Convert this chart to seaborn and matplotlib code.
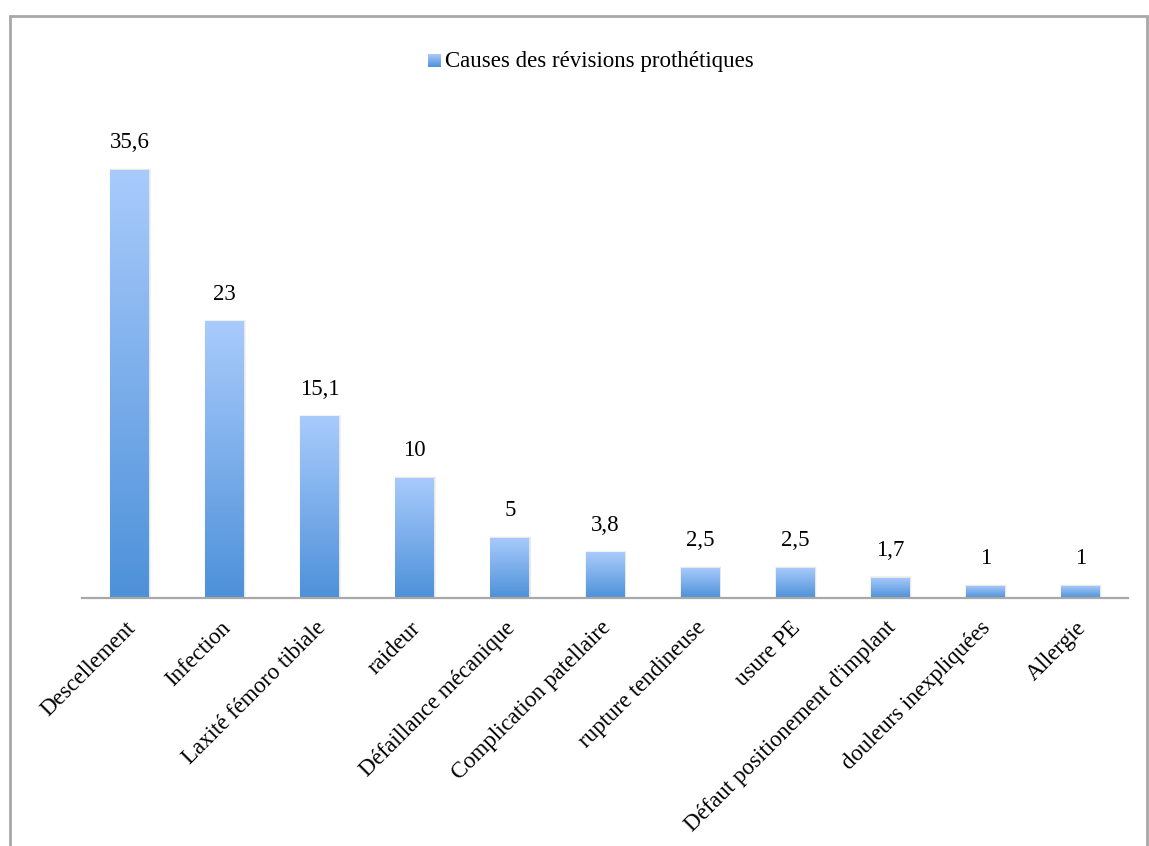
import numpy as np
import pandas as pd
import matplotlib
matplotlib.use("Agg")
import matplotlib.pyplot as plt
import matplotlib.transforms as mtransforms
import seaborn as sns
from matplotlib.colors import LinearSegmentedColormap
from matplotlib.patches import Rectangle

categories = [
    "Descellement", "Infection", "Laxité fémoro tibiale", "raideur",
    "Défaillance mécanique", "Complication patellaire", "rupture tendineuse",
    "usure PE", "Défaut positionement d'implant", "douleurs inexpliquées",
    "Allergie",
]
values = [35.6, 23, 15.1, 10, 5, 3.8, 2.5, 2.5, 1.7, 1, 1]
value_labels = ["35,6", "23", "15,1", "10", "5", "3,8", "2,5", "2,5", "1,7", "1", "1"]
series_name = "Causes des révisions prothétiques"

sns.set_theme(style="white")
plt.rcParams["font.family"] = ["Liberation Serif", "DejaVu Serif"]

W, H = 1149, 846
fig = plt.figure(figsize=(W / 100, H / 100), dpi=100)

# outer chart frame (bottom edge runs off the page)
frame = Rectangle((10 / W, -0.05), (1147 - 10) / W, (H - 16) / H + 0.05,
                  transform=fig.transFigure, fill=False,
                  edgecolor="#a8a8a8", linewidth=2.0)
fig.patches.append(frame)

ax = fig.add_axes([82 / W, (H - 598) / H, (1128 - 82) / W, 481 / H])

df = pd.DataFrame({"cause": categories, "value": values})
sns.barplot(data=df, x="cause", y="value", ax=ax, width=0.41,
            color="#7fb0ea", saturation=1, edgecolor="none")

ax.set_ylim(0, 40)
ax.set_xlim(-0.5, len(categories) - 0.5)

# vertical gradient fill inside each bar, with a soft shadow
cmap = LinearSegmentedColormap.from_list("barfill", ["#4d91d9", "#a9cbfc"])
grad = np.linspace(0, 1, 256).reshape(-1, 1)
for bar in ax.patches:
    x0, y0 = bar.get_x(), bar.get_y()
    w, h = bar.get_width(), bar.get_height()
    for k, a in enumerate([0.10, 0.07, 0.04]):
        dx = 0.012 + 0.008 * k
        sh = Rectangle((x0 - 0.004 * k, y0), w + dx, h + 0.05 * (k + 1),
                       facecolor="#8c8c8c", alpha=a, edgecolor="none", zorder=1)
        ax.add_patch(sh)
    bar.set_facecolor("none")
    im = ax.imshow(grad, extent=[x0, x0 + w, y0, y0 + h], origin="lower",
                   aspect="auto", cmap=cmap, zorder=2)
    im.set_clip_path(bar)

for i, (v, lab) in enumerate(zip(values, value_labels)):
    ax.annotate(lab, (i, v), xytext=(0, 12), textcoords="offset points",
                ha="center", va="bottom", fontsize=16.5, color="#000000")

ax.set_xlabel("")
ax.set_ylabel("")
ax.set_yticks([])
ax.set_xticks(range(len(categories)))
ax.set_xticklabels(categories, rotation=45, ha="right",
                   rotation_mode="anchor", fontsize=16.5, color="#000000")
ax.tick_params(axis="x", length=0, pad=14)
shift = mtransforms.ScaledTranslation(-5 / 100, 0, fig.dpi_scale_trans)
for lbl in ax.get_xticklabels():
    lbl.set_transform(lbl.get_transform() + shift)
for side in ["top", "left", "right"]:
    ax.spines[side].set_visible(False)
ax.spines["bottom"].set_color("#a8a8a8")
ax.spines["bottom"].set_linewidth(1.6)
ax.spines["bottom"].set_zorder(3)
ax.patch.set_alpha(0)

# legend: gradient swatch plus series name
sw = fig.add_axes([428 / W, (H - 67) / H, 13 / W, 13 / H])
sw.imshow(grad, origin="lower", aspect="auto", cmap=cmap)
sw.set_axis_off()
fig.text(445 / W, (H - 62) / H, series_name, ha="left", va="center",
         fontsize=16.5, color="#000000")

fig.savefig("out.png", dpi=100)
